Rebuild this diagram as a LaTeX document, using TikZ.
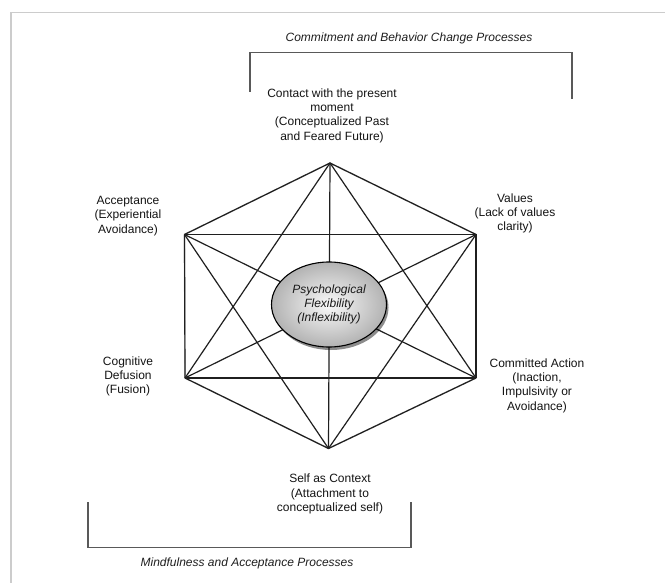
\documentclass[tikz,border=0pt]{standalone}
\usepackage{fontspec}
\setmainfont{Liberation Sans}
\usetikzlibrary{shapes.geometric,shadows}
\tikzset{
  lbl/.style={align=center, inner sep=0pt, font=\fontsize{12}{14.3}\selectfont, text=black!92},
  ttl/.style={inner sep=0pt, font=\fontsize{12}{14.3}\selectfont\itshape, text=black!88},
  web/.style={draw=black!88, line width=1.2pt},
  hexshadow/.style={draw=gray!45, line width=1.4pt},
  brk/.style={draw=black!65, line width=1.6pt},
  frame/.style={draw=gray!40, line width=1.2pt},
  core/.style={ellipse, draw=black, line width=1.1pt, minimum width=115pt, minimum height=85pt,
    inner sep=0pt, align=center, shading=radial, inner color=gray!4, outer color=gray!60,
    drop shadow={shadow xshift=2pt, shadow yshift=-3pt, opacity=0.45, fill=black},
    font=\fontsize{12}{14.3}\selectfont\itshape, text=black!90}
}
\begin{document}
\begin{tikzpicture}[x=1pt,y=-1pt]
\useasboundingbox (0,0) rectangle (665,583);
\fill[white] (0,0) rectangle (665,583);
% outer frame
\coordinate (f1) at (11,583);
\coordinate (f2) at (11,12.5);
\coordinate (f3) at (665,12.5);
\draw[frame] (f1) -- (f2) -- (f3);
% vertices
\coordinate (T)  at (330,163);
\coordinate (UR) at (476,234.5);
\coordinate (LR) at (476,378);
\coordinate (B)  at (328.5,448.5);
\coordinate (LL) at (185,378);
\coordinate (UL) at (184.5,234.5);
% hexagon shadow
\begin{scope}[shift={(1.6,1.8)}]
\draw[hexshadow] (T) -- (UR) -- (LR) -- (B) -- (LL) -- (UL) -- cycle;
\end{scope}
% all connections
\foreach \a/\b in {T/UR,UR/LR,LR/B,B/LL,LL/UL,UL/T,
  T/LR,T/B,T/LL,UR/B,UR/LL,UR/UL,LR/LL,LR/UL,B/UL}
  \draw[web] (\a) -- (\b);
% centre
\node[core] (C) at (329,304.5) {Psychological\\Flexibility\\(Inflexibility)};
% labels
\node[lbl] (lT) at (332,115.5) {Contact with the present\\moment\\(Conceptualized Past\\and Feared Future)};
\node[lbl] (lUR) at (515,213.5) {Values\\(Lack of values\\clarity)};
\node[lbl] (lLR) at (537,385.5) {Committed Action\\(Inaction,\\Impulsivity or\\Avoidance)};
\node[lbl] (lB) at (330,494) {Self as Context\\(Attachment to\\conceptualized self)};
\node[lbl] (lLL) at (128,376.5) {Cognitive\\Defusion\\(Fusion)};
\node[lbl] (lUL) at (128,216) {Acceptance\\(Experiential\\Avoidance)};
% brackets
\coordinate (t1) at (250,92);
\coordinate (t2) at (250,52.5);
\coordinate (t3) at (572,52.5);
\coordinate (t4) at (572,99);
\draw[brk] (t1) -- (t2) -- (t3) -- (t4);
\coordinate (b1) at (88,502);
\coordinate (b2) at (88,547.5);
\coordinate (b3) at (411,547.5);
\coordinate (b4) at (411,502);
\draw[brk] (b1) -- (b2) -- (b3) -- (b4);
\node[ttl] (ttop) at (409,38) {Commitment and Behavior Change Processes};
\node[ttl] (tbot) at (247,563) {Mindfulness and Acceptance Processes};
\end{tikzpicture}
\end{document}
